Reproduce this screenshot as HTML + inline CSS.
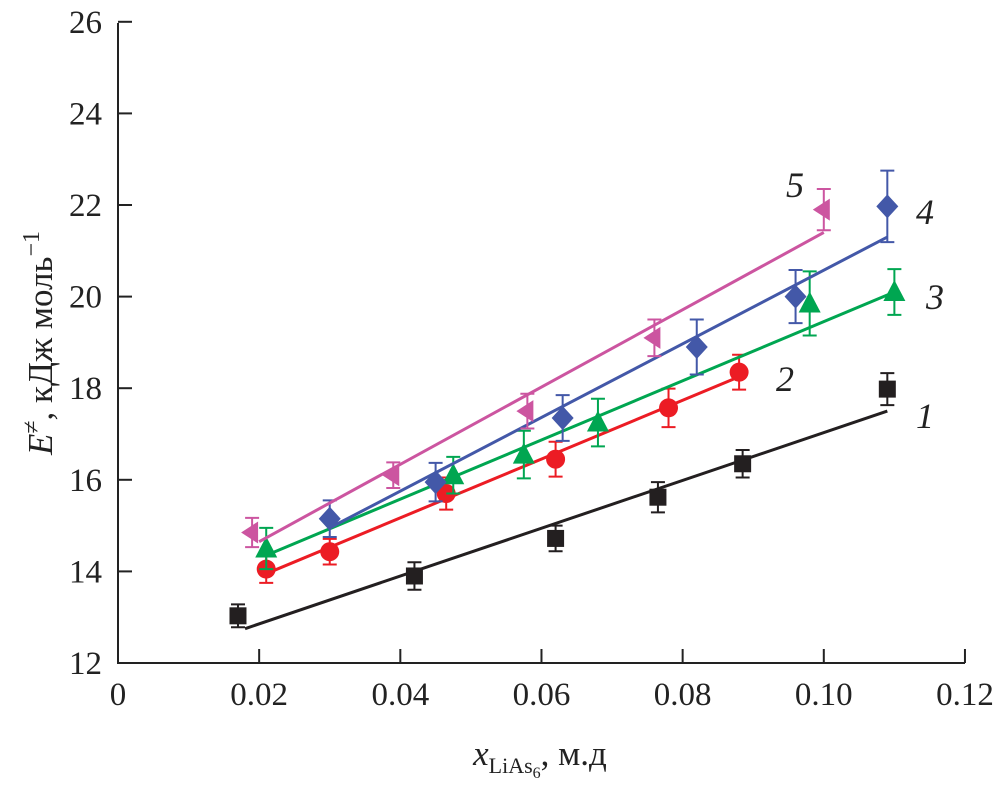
<!DOCTYPE html>
<html><head><meta charset="utf-8"><style>
body{margin:0;background:#fff}
text{font-family:"Liberation Serif",serif}
</style></head><body>
<svg id="chart" width="1000" height="790" xmlns="http://www.w3.org/2000/svg"></svg>
<script>
const xTicks=[0,0.02,0.04,0.06,0.08,0.10,0.12];
const xTickLabels=["0","0.02","0.04","0.06","0.08","0.10","0.12"];
const yTicks=[12,14,16,18,20,22,24,26];
const yTickLabels=["12","14","16","18","20","22","24","26"];
const s1x=[0.017,0.042,0.062,0.0765,0.0885,0.109];
const s1y=[13.03,13.9,14.72,15.62,16.35,17.98];
const s1e=[0.25,0.3,0.28,0.33,0.3,0.35];
const s2x=[0.021,0.030,0.0465,0.062,0.078,0.088];
const s2y=[14.05,14.43,15.7,16.45,17.57,18.35];
const s2e=[0.3,0.28,0.35,0.38,0.42,0.38];
const s3x=[0.021,0.0475,0.0575,0.068,0.098,0.110];
const s3y=[14.5,16.1,16.55,17.25,19.85,20.1];
const s3e=[0.45,0.4,0.52,0.52,0.7,0.5];
const s4x=[0.030,0.045,0.063,0.082,0.096,0.109];
const s4y=[15.15,15.95,17.35,18.9,20.0,21.97];
const s4e=[0.4,0.42,0.5,0.6,0.58,0.78];
const s5x=[0.019,0.039,0.058,0.076,0.100];
const s5y=[14.85,16.1,17.5,19.1,21.9];
const s5e=[0.32,0.28,0.38,0.4,0.45];
const fitX=[[0.018,0.109],[0.021,0.088],[0.021,0.110],[0.030,0.109],[0.020,0.100]];
const fitY=[[12.75,17.5],[13.95,18.25],[14.35,20.1],[14.95,21.3],[14.65,21.4]];
const labels=["1","2","3","4","5"];

const X=v=>118+v*7058, Y=v=>663-(v-12)*45.8;
const svg=document.getElementById('chart'), NS="http://www.w3.org/2000/svg";
function mk(t,a,p){const e=document.createElementNS(NS,t);for(const k in a)e.setAttribute(k,a[k]);(p||svg).appendChild(e);return e;}
let ax=mk('path',{d:`M118,23V663H965`,stroke:'#222',fill:'none','stroke-width':2});


xTicks.forEach((v,i)=>{
 const t=mk('line',{x1:X(v),x2:X(v),y1:663,y2:649,stroke:'#222','stroke-width':2});
 
 
 const l=mk('text',{x:X(v),y:705,'font-size':33,'text-anchor':'middle',fill:'#222'});l.textContent=xTickLabels[i];
 
 
});
yTicks.forEach((v,i)=>{
 const t=mk('line',{x1:118,x2:132,y1:Y(v),y2:Y(v),stroke:'#222','stroke-width':2});
 
 
 const l=mk('text',{x:102,y:Y(v)+11,'font-size':33,'text-anchor':'end',fill:'#222'});l.textContent=yTickLabels[i];
 
 
});
const series=[[s1x,s1y,s1e,'#231f20','square'],[s2x,s2y,s2e,'#ec1c24','circle'],[s3x,s3y,s3e,'#00a651','tri'],[s4x,s4y,s4e,'#4358a8','diamond'],[s5x,s5y,s5e,'#cc55a0','ltri']];
series.forEach((s,si)=>{
 const [xs,ys,es,c,sh]=s;
 const g=mk('g',{});
 
 
 const f=fitX[si],fy=fitY[si];
 const ln=mk('line',{x1:X(f[0]),y1:Y(fy[0]),x2:X(f[1]),y2:Y(fy[1]),stroke:c,'stroke-width':3},g);
 
 
 xs.forEach((xv,i)=>{
  const cx=X(xv),cy=Y(ys[i]),t=Y(ys[i]+es[i]),b=Y(ys[i]-es[i]);
  const eb=mk('path',{d:`M${cx},${t}V${b}M${cx-7},${t}H${cx+7}M${cx-7},${b}H${cx+7}`,stroke:c,'stroke-width':2,fill:'none'},g);
  
  
  let m;
  if(sh==='square')m=mk('rect',{x:cx-8.5,y:cy-8.5,width:17,height:17,fill:c},g);
  else if(sh==='circle')m=mk('circle',{cx,cy,r:9.5,fill:c},g);
  else if(sh==='tri')m=mk('polygon',{points:`${cx},${cy-12} ${cx+11},${cy+9} ${cx-11},${cy+9}`,fill:c},g);
  else if(sh==='diamond')m=mk('polygon',{points:`${cx},${cy-12} ${cx+11},${cy} ${cx},${cy+12} ${cx-11},${cy}`,fill:c},g);
  else m=mk('polygon',{points:`${cx-11},${cy} ${cx+6},${cy-11} ${cx+6},${cy+11}`,fill:c},g);
  
  
 });
});
const lp=[[925,428],[785,391],[935,309],[925,224],[795,197]];
lp.forEach((p,i)=>{
 const l=mk('text',{x:p[0],y:p[1],'font-size':36,'font-style':'italic','text-anchor':'middle',fill:'#222'});l.textContent=labels[i];
 
 
});
</script>
<svg style="position:absolute;left:0;top:0" width="1000" height="790">
<text x="540" y="765" font-size="35" text-anchor="middle" fill="#222" font-family="Liberation Serif, serif"><tspan font-style="italic">x</tspan><tspan font-size="22" dy="8">LiAs</tspan><tspan font-size="16" dy="5">6</tspan><tspan dy="-13">, м.д</tspan></text>
<text transform="translate(52,343) rotate(-90)" font-size="35" text-anchor="middle" fill="#222" font-family="Liberation Serif, serif"><tspan font-style="italic">E</tspan><tspan font-size="24" dy="-13">≠</tspan><tspan dy="13">, кДж моль</tspan><tspan font-size="24" dy="-13">−1</tspan></text>
</svg>
</body></html>
